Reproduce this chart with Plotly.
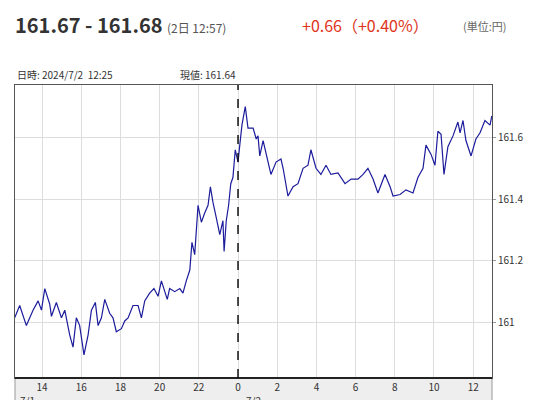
import pandas as pd
import plotly.graph_objects as go

# hours since 2024/7/1 00:00
hours = [
    12.61, 12.86, 13.20, 13.54, 13.80, 13.97, 14.14, 14.39, 14.48, 14.73,
    14.99, 15.16, 15.41, 15.58, 15.75, 15.92, 16.14, 16.35, 16.52, 16.72,
    16.86, 17.03, 17.20, 17.45, 17.62, 17.79, 18.05, 18.22, 18.39, 18.64,
    18.90, 19.07, 19.24, 19.49, 19.71, 19.92, 20.09, 20.39, 20.51, 20.77,
    21.03, 21.19, 21.36, 21.54, 21.65, 21.79, 21.96, 22.13, 22.30, 22.47,
    22.59, 22.72, 22.89, 23.07, 23.23, 23.29, 23.40, 23.52, 23.63, 23.74,
    23.86, 24.00, 24.09, 24.20, 24.37, 24.51, 24.77, 24.93,
    25.02, 25.11, 25.28, 25.43, 25.68, 25.94, 26.19, 26.30, 26.55, 26.81,
    27.06, 27.32, 27.57, 27.72, 27.98, 28.23, 28.49, 28.74, 29.10, 29.46,
    29.77, 30.12, 30.38, 30.63, 30.89, 31.14, 31.50, 31.76, 31.91, 32.27,
    32.57, 32.93, 33.18, 33.44, 33.59, 33.85, 34.05, 34.20, 34.36, 34.51,
    34.71, 34.97, 35.22, 35.33, 35.48, 35.63, 35.89, 36.14, 36.35, 36.60,
    36.86, 36.95,
]
prices = [
    161.016, 161.055, 160.99, 161.04, 161.07, 161.04, 161.11, 161.06, 161.02, 161.065,
    161.015, 161.04, 160.96, 160.92, 161.015, 160.99, 160.895, 160.96, 161.04, 161.065,
    160.99, 161.015, 161.075, 161.03, 161.015, 160.97, 160.98, 161.005, 161.015, 161.055,
    161.055, 161.015, 161.07, 161.095, 161.11, 161.085, 161.135, 161.075, 161.11, 161.10,
    161.11, 161.095, 161.135, 161.17, 161.26, 161.22, 161.38, 161.325, 161.355, 161.38,
    161.44, 161.39, 161.34, 161.285, 161.33, 161.23, 161.33, 161.38, 161.45, 161.47,
    161.56, 161.52, 161.575, 161.64, 161.70, 161.63, 161.63, 161.595,
    161.605, 161.54, 161.59, 161.545, 161.48, 161.52, 161.53, 161.50, 161.41, 161.44,
    161.45, 161.50, 161.51, 161.56, 161.50, 161.48, 161.51, 161.48, 161.485, 161.45,
    161.465, 161.465, 161.48, 161.50, 161.465, 161.42, 161.48, 161.44, 161.41, 161.415,
    161.43, 161.42, 161.47, 161.50, 161.575, 161.545, 161.51, 161.62, 161.61, 161.48,
    161.57, 161.605, 161.65, 161.615, 161.655, 161.59, 161.54, 161.595, 161.615, 161.655,
    161.64, 161.67,
]
tick_hours = [14, 16, 18, 20, 22, 24, 26, 28, 30, 32, 34, 36]
tick_text = ["14", "16", "18", "20", "22", "0", "2", "4", "6", "8", "10", "12"]
y_ticks = [161, 161.2, 161.4, 161.6]

base = pd.Timestamp("2024-07-01")
times = base + pd.to_timedelta(hours, unit="h")
tick_times = base + pd.to_timedelta(tick_hours, unit="h")
x_start = base + pd.to_timedelta(12.62, unit="h")
x_end = base + pd.to_timedelta(36.96, unit="h")
midnight = base + pd.Timedelta(hours=24)

W, H = 534, 400
ML, MR, MT, MB = 7, 50, 77, 30
plot_w = W - ML - MR
plot_h = H - MT - MB


def px(x):
    return (x - ML) / plot_w


def py(y):
    # page pixel y (from top) -> plot paper coordinate
    return (H - MB - y) / plot_h


fig = go.Figure()
fig.add_trace(
    go.Scatter(
        x=times,
        y=prices,
        mode="lines",
        line={"color": "#1c1c9c", "width": 1.2},
        hoverinfo="skip",
        showlegend=False,
    )
)

fig.update_xaxes(
    range=[x_start, x_end],
    tickvals=tick_times,
    ticktext=tick_text,
    showgrid=True,
    gridcolor="#dddddd",
    showline=True,
    linecolor="#555555",
    mirror=True,
    ticks="",
    automargin=False,
    tickfont={"size": 10, "color": "#333333"},
)
fig.update_yaxes(
    range=[160.82, 161.77],
    tickvals=y_ticks,
    ticktext=["161", "161.2", "161.4", "161.6"],
    side="right",
    showgrid=True,
    gridcolor="#dddddd",
    showline=True,
    linecolor="#555555",
    mirror=True,
    ticks="outside",
    ticklen=3,
    tickcolor="#999999",
    automargin=False,
    tickfont={"size": 10, "color": "#333333"},
    zeroline=False,
)

# gray band under the plot for the time axis
fig.add_shape(type="rect", xref="paper", yref="paper", x0=0, x1=1, y0=py(394), y1=0,
              fillcolor="#eeeeee", line={"color": "#999999", "width": 1}, layer="below")
fig.add_shape(type="line", xref="paper", yref="paper", x0=0, x1=1, y0=0, y1=0,
              line={"color": "#222222", "width": 2})
fig.add_shape(type="line", xref="x", yref="paper", x0=midnight, x1=midnight, y0=0, y1=1,
              line={"color": "#111111", "width": 1.5, "dash": "dash"})

txt = {"size": 10, "color": "#333333"}
anns = [
    dict(x=px(10), y=py(383), text="7/1", xanchor="left", yanchor="top", font=txt),
    dict(x=px(236), y=py(383), text="7/2", xanchor="left", yanchor="top", font=txt),
    dict(x=px(5), y=py(16), xanchor="left", yanchor="middle",
         text="<b>161.67 - 161.68</b> <span style='font-size:12px;color:#555'>(2日 12:57)</span>",
         font={"size": 20, "color": "#333333"}),
    dict(x=px(292), y=py(17), xanchor="left", yanchor="middle", text="+0.66（+0.40%）",
         font={"size": 16, "color": "#e0341c"}),
    dict(x=px(453), y=py(18), xanchor="left", yanchor="middle", text="(単位:円)",
         font={"size": 11, "color": "#666666"}),
    dict(x=px(7), y=py(66), xanchor="left", yanchor="middle", text="日時: 2024/7/2  12:25",
         font=txt),
    dict(x=px(170), y=py(66), xanchor="left", yanchor="middle", text="現値: 161.64",
         font=txt),
]
for a in anns:
    a.update(xref="paper", yref="paper", showarrow=False)

fig.update_layout(
    annotations=anns,
    width=W,
    height=H,
    margin={"l": ML, "r": MR, "t": MT, "b": MB, "autoexpand": False},
    plot_bgcolor="white",
    paper_bgcolor="white",
    font={"family": "Noto Sans CJK JP, Noto Sans, sans-serif"},
)

fig.write_html("out.html")
